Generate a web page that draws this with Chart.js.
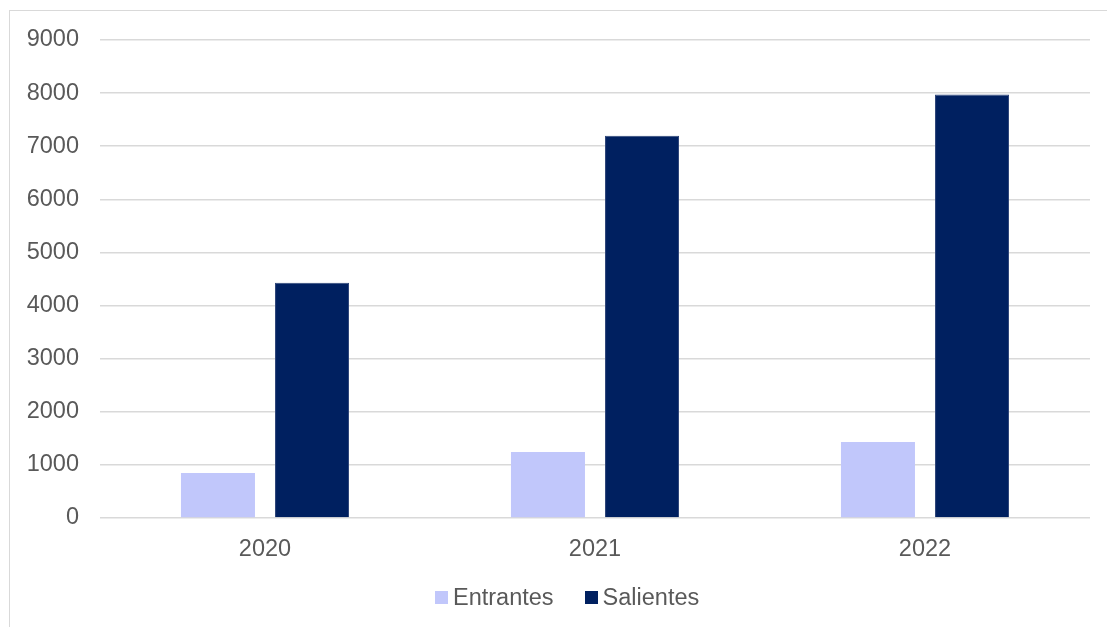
<!DOCTYPE html>
<html>
<head>
<meta charset="utf-8">
<script src="https://cdn.jsdelivr.net/npm/chart.js@4"></script>
<style>
  html, body { margin: 0; padding: 0; background: #fff; }
  #wrap { position: relative; width: 1107px; height: 627px; overflow: hidden; }
  #frame { position: absolute; left: 9px; top: 10px; width: 1200px; height: 700px; border: 1px solid #d9d9d9; }
  canvas { position: absolute; left: 0; top: 0; }
  #leyenda { position: absolute; left: 435px; top: 585px; height: 24px; display: flex; align-items: center;
             font-family: 'Liberation Sans', Arial, sans-serif; font-size: 23.5px; line-height: 24px; color: #595959; }
  .item { display: flex; align-items: center; margin-right: 31px; }
  .caja { width: 13px; height: 13px; margin-right: 5px; }
</style>
</head>
<body>
<div id="wrap">
  <div id="frame"></div>
  <canvas id="chartOne" width="1107" height="627"></canvas>
  <div id="leyenda"></div>
</div>
<script>
// datos
let anios = ['2020', '2021', '2022'];
let entrantes = [845, 1245, 1430];
let salientes = [4430, 7195, 7975];
let ejeMax = 9000;
let ejePaso = 1000;

Chart.defaults.font.family = "'Liberation Sans', Arial, sans-serif";
Chart.defaults.font.size = 23.5;
Chart.defaults.color = '#595959';

var ctxOne = document.getElementById('chartOne').getContext('2d');
var chartOne = new Chart(ctxOne, {
    type: 'bar',
    data: {
        labels: anios,
        datasets: [{
            label: 'Entrantes',
            data: entrantes,
            backgroundColor: '#c1c7fb',
            categoryPercentage: 0.57,
            barPercentage: 0.787
        }, {
            label: 'Salientes',
            data: salientes,
            backgroundColor: '#002060',
            borderColor: '#2c4478',
            borderWidth: 1,
            categoryPercentage: 0.57,
            barPercentage: 0.787
        }]
    },
    options: {
        responsive: false,
        animation: false,
        layout: {
            padding: { left: 0, right: 17, top: 40, bottom: 69 }
        },
        plugins: {
            legend: { display: false },
            tooltip: { enabled: false }
        },
        scales: {
            x: {
                grid: { display: false },
                border: { display: false },
                ticks: { padding: 9 },
                afterFit: function(scale) { scale.height = 40; }
            },
            y: {
                min: 0,
                max: ejeMax,
                ticks: {
                    stepSize: ejePaso,
                    padding: 21,
                    callback: function(v) { return String(v); }
                },
                grid: { color: '#d9d9d9', lineWidth: 1.5, drawTicks: false },
                border: { display: false },
                afterFit: function(scale) { scale.width = 100; }
            }
        }
    }
});

// leyenda en html, armada con los datasets
let leyenda = document.getElementById("leyenda");
chartOne.data.datasets.forEach(ds => {
    let item = document.createElement("div");
    item.className = "item";
    item.innerHTML = `<span class="caja" style="background:${ds.backgroundColor}"></span><span>${ds.label}</span>`;
    leyenda.appendChild(item);
});
</script>
</body>
</html>
